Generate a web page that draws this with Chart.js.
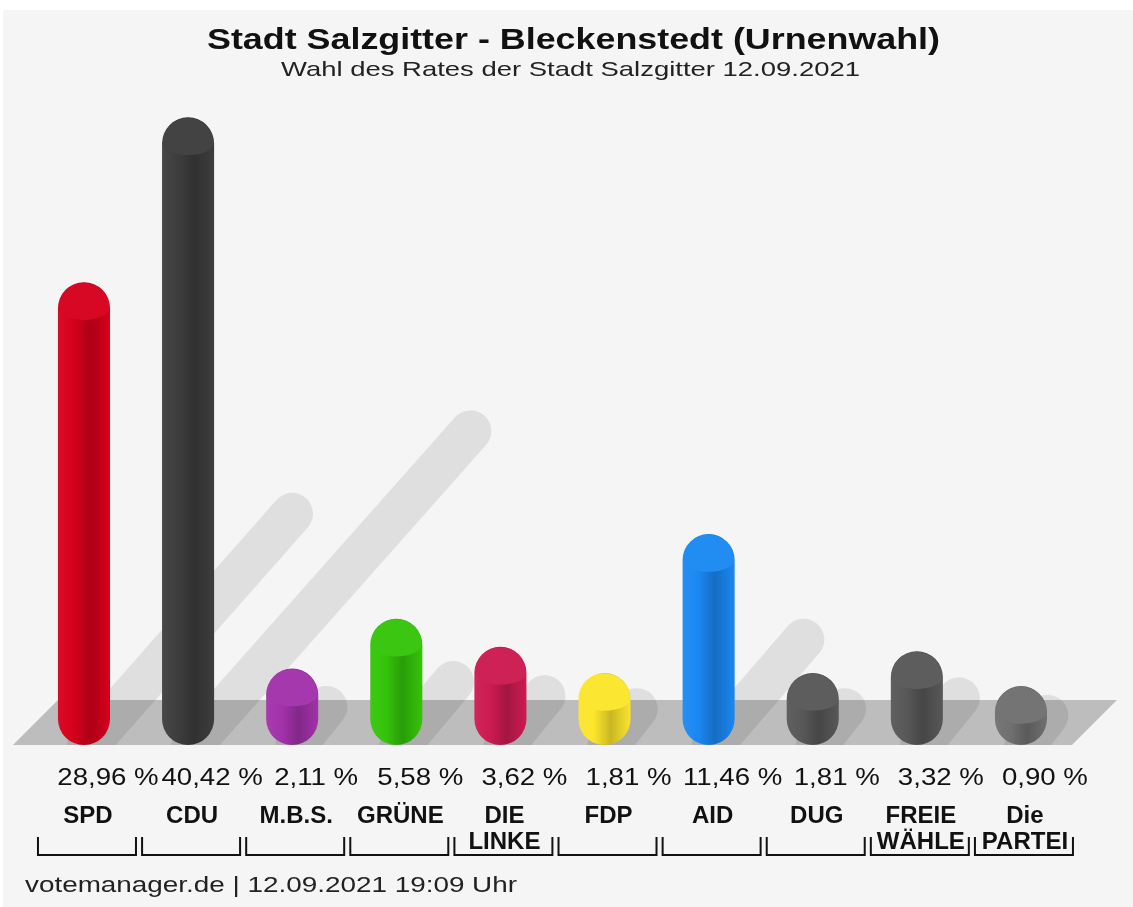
<!DOCTYPE html>
<html>
<head>
<meta charset="utf-8">
<script src="https://cdn.jsdelivr.net/npm/chart.js@4"></script>
<style>
  body { margin: 0; background: #fff; }
  #wrap { width: 1133px; height: 907px; position: relative; }
</style>
</head>
<body>
<div id="wrap"><canvas id="myChart"></canvas></div>
<script>
'use strict';

// data

let parties = [['SPD'], ['CDU'], ['M.B.S.'], ['GRÜNE'], ['DIE', 'LINKE'], ['FDP'], ['AID'], ['DUG'], ['FREIE', 'WÄHLE'], ['Die', 'PARTEI']];
let shares = [28.96, 40.42, 2.11, 5.58, 3.62, 1.81, 11.46, 1.81, 3.32, 0.90];
let shareLabels = ['28,96 %', '40,42 %', '2,11 %', '5,58 %', '3,62 %', '1,81 %', '11,46 %', '1,81 %', '3,32 %', '0,90 %'];
let barColors = ['#d6001c', '#3d3d3d', '#a232aa', '#34c40a', '#cc1b52', '#fbe52c', '#1a88f2', '#585858', '#585858', '#707070'];

let titleText = 'Stadt Salzgitter - Bleckenstedt (Urnenwahl)';
let subtitleText = 'Wahl des Rates der Stadt Salzgitter 12.09.2021';
let footerText = 'votemanager.de | 12.09.2021 19:09 Uhr';

let fontName = '"Liberation Sans", Arial, sans-serif';

// helpers

function shade(hex, f) {
  let n = parseInt(hex.slice(1), 16);
  let r = (n >> 16) & 255, g = (n >> 8) & 255, b = n & 255;
  if (f < 1) {
    r = Math.round(r * f); g = Math.round(g * f); b = Math.round(b * f);
  } else {
    let t = f - 1;
    r = Math.round(r + (255 - r) * t); g = Math.round(g + (255 - g) * t); b = Math.round(b + (255 - b) * t);
  }
  return 'rgb(' + r + ',' + g + ',' + b + ')';
}

function barFill(context) {
  let chart = context.chart;
  let base = barColors[context.dataIndex];
  if (!chart.chartArea || !chart.scales.x) return base;
  let x = chart.scales.x.getPixelForValue(context.dataIndex);
  let half = chart.scales.x.width / parties.length * 0.5 / 2;
  let g = chart.ctx.createLinearGradient(x - half, 0, x + half, 0);
  g.addColorStop(0, shade(base, 1.05));
  g.addColorStop(0.3, base);
  g.addColorStop(0.62, shade(base, 0.8));
  g.addColorStop(1, base);
  return g;
}

// text squeezed or stretched to a given width
function fitText(ctx, text, x, y, width, align) {
  let w = ctx.measureText(text).width;
  let sx = width / w;
  ctx.save();
  ctx.textAlign = 'left';
  let left = align === 'center' ? x - width / 2 : x;
  ctx.translate(left, y);
  ctx.scale(sx, 1);
  ctx.fillText(text, 0, 0);
  ctx.restore();
}

// plugin for the decoration and the texts

let decor = {
  id: 'decor',
  beforeDraw(chart) {
    let ctx = chart.ctx;
    ctx.save();
    ctx.fillStyle = '#ffffff';
    ctx.fillRect(0, 0, chart.width, chart.height);
    ctx.fillStyle = '#f5f5f5';
    ctx.fillRect(3, 10, chart.width - 3, chart.height - 10);
    ctx.restore();
  },
  beforeDatasetsDraw(chart) {
    let ctx = chart.ctx;
    let area = chart.chartArea;
    let bottom = area.bottom;
    let top = bottom - 45;
    ctx.save();
    // floor
    ctx.fillStyle = '#bdbdbd';
    ctx.beginPath();
    ctx.moveTo(area.left - 19, bottom);
    ctx.lineTo(area.left + 26, top);
    ctx.lineTo(area.right + 44, top);
    ctx.lineTo(area.right - 1, bottom);
    ctx.closePath();
    ctx.fill();
    // slanted shadows, kept above the front edge of the floor
    ctx.beginPath();
    ctx.rect(0, 0, chart.width, bottom);
    ctx.clip();
    let meta = chart.getDatasetMeta(0);
    ctx.strokeStyle = 'rgba(0,0,0,0.085)';
    ctx.lineCap = 'round';
    meta.data.forEach(function (el) {
      let h = el.base - el.y;
      ctx.lineWidth = el.width * 0.8;
      ctx.beginPath();
      ctx.moveTo(el.x + 4, el.base);
      ctx.lineTo(el.x + h * 0.45, el.base - h * 0.5);
      ctx.stroke();
    });
    ctx.restore();
  },
  afterDatasetsDraw(chart) {
    let ctx = chart.ctx;
    let meta = chart.getDatasetMeta(0);
    ctx.save();
    // flat top of each cylinder
    meta.data.forEach(function (el, i) {
      let r = el.width / 2;
      let cy = el.y + r;
      ctx.fillStyle = shade(barColors[i], 1.03);
      ctx.beginPath();
      ctx.arc(el.x, cy, r - 0.5, Math.PI, 0);
      ctx.ellipse(el.x, cy, r - 0.5, r * 0.45, 0, 0, Math.PI);
      ctx.closePath();
      ctx.fill();
    });

    // percentage labels
    ctx.fillStyle = '#111111';
    ctx.font = '24px ' + fontName;
    ctx.textBaseline = 'alphabetic';
    meta.data.forEach(function (el, i) {
      let w = ctx.measureText(shareLabels[i]).width * 1.15;
      fitText(ctx, shareLabels[i], el.x + 24, chart.chartArea.bottom + 40, w, 'center');
    });

    // brackets under the names
    let xs = chart.scales.x;
    let y0 = chart.chartArea.bottom + 92;
    let y1 = chart.chartArea.bottom + 110;
    ctx.strokeStyle = '#111111';
    ctx.lineWidth = 2;
    parties.forEach(function (p, i) {
      let c = xs.getPixelForValue(i) + 3;
      ctx.beginPath();
      ctx.moveTo(c - 49, y0);
      ctx.lineTo(c - 49, y1);
      ctx.lineTo(c + 49, y1);
      ctx.lineTo(c + 49, y0);
      ctx.stroke();
    });
    ctx.restore();
  },
  afterDraw(chart) {
    let ctx = chart.ctx;
    ctx.save();
    ctx.textBaseline = 'alphabetic';
    ctx.fillStyle = '#111111';
    ctx.font = 'bold 30px ' + fontName;
    fitText(ctx, titleText, 573.5, 49, 733, 'center');
    ctx.fillStyle = '#222222';
    ctx.font = '21px ' + fontName;
    fitText(ctx, subtitleText, 570.5, 76, 579, 'center');
    ctx.font = '22px ' + fontName;
    fitText(ctx, footerText, 25, 892, 492, 'left');
    ctx.restore();
  }
};

// chart

const ctx = document.getElementById('myChart').getContext('2d');

const myChart = new Chart(ctx, {
  type: 'bar',
  data: {
    labels: parties,
    datasets: [{
      data: shares,
      base: -3.2,
      backgroundColor: barFill,
      borderWidth: 0,
      borderRadius: 40,
      borderSkipped: false,
      barPercentage: 0.5,
      categoryPercentage: 1
    }]
  },
  options: {
    responsive: true,
    maintainAspectRatio: false,
    animation: false,
    layout: {
      autoPadding: false,
      padding: { left: 26, right: 60, top: 109, bottom: 0 }
    },
    plugins: {
      legend: { display: false },
      tooltip: { enabled: false }
    },
    scales: {
      x: {
        grid: { display: false, drawTicks: false },
        border: { display: false },
        ticks: {
          color: '#111111',
          font: { family: fontName, size: 24, weight: 'bold', lineHeight: 1.1 },
          padding: 58,
          labelOffset: 4,
          maxRotation: 0,
          autoSkip: false
        },
        afterFit: function (scale) { scale.height = 162; }
      },
      y: {
        display: false,
        min: -3.2,
        max: 41
      }
    }
  },
  plugins: [decor]
});

console.log(myChart);
</script>
</body>
</html>
